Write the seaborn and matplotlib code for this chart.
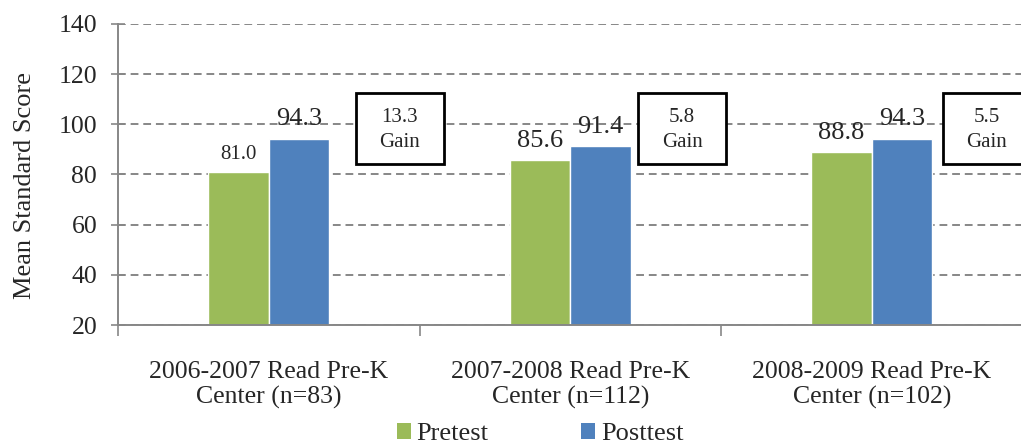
import matplotlib
matplotlib.use("Agg")
import matplotlib.pyplot as plt
import seaborn as sns
import pandas as pd
from matplotlib.patches import Rectangle

categories = ["2006-2007 Read Pre-K\nCenter (n=83)",
              "2007-2008 Read Pre-K\nCenter (n=112)",
              "2008-2009 Read Pre-K\nCenter (n=102)"]
pretest = [81.0, 85.6, 88.8]
posttest = [94.3, 91.4, 94.3]
gains = ["13.3", "5.8", "5.5"]
series = ["Pretest", "Posttest"]
colors = ["#9BBB59", "#4F81BD"]

df = pd.DataFrame({
    "cat": categories * 2,
    "test": [series[0]] * 3 + [series[1]] * 3,
    "score": pretest + posttest,
})

sns.set_theme(style="white")
plt.rcParams["font.family"] = ["Liberation Serif", "DejaVu Serif"]

fig = plt.figure(figsize=(10.21, 4.46), dpi=100)
ax = fig.add_axes([118 / 1021, (446 - 325) / 446, (1022.5 - 118) / 1021, (325 - 24) / 446])

sns.barplot(data=df, x="cat", y="score", hue="test", palette=colors,
            width=0.4, ax=ax, saturation=1, legend=False, errorbar=None)

ax.set_xlim(-0.5, 2.5)
ax.set_ylim(20, 140)
ax.set_yticks(range(20, 141, 20))
ax.set_ylabel("Mean Standard Score", fontsize=19)
ax.yaxis.set_label_coords(-0.091, 0.462)
ax.set_xlabel("")

gray = "#878787"
ax.yaxis.grid(True, color=gray, linestyle=(0, (4, 2.5)), linewidth=1.4)
ax.set_axisbelow(True)
for s in ["top", "right"]:
    ax.spines[s].set_visible(False)
for s in ["left", "bottom"]:
    ax.spines[s].set_color(gray)
    ax.spines[s].set_linewidth(1.4)

ax.tick_params(axis="y", which="major", direction="inout", length=10, width=1.2,
               color=gray, labelsize=18.5, pad=10, left=True)
ax.tick_params(axis="x", which="major", length=0, labelsize=18.5, pad=26)
ax.set_xticks([-0.5, 0.5, 1.5, 2.5], minor=True)
ax.tick_params(axis="x", which="minor", direction="out", length=8, width=1.2,
               color=gray, bottom=True)
for lbl in ax.get_xticklabels():
    lbl.set_linespacing(1.15)

# value labels
sizes = [[15, 19, 19], [19, 19, 19]]
for ci, cont in enumerate(ax.containers):
    vals = pretest if ci == 0 else posttest
    texts = ax.bar_label(cont, labels=[f"{v:.1f}" for v in vals], padding=6)
    for t, fs in zip(texts, sizes[ci]):
        t.set_fontsize(fs)

# gain boxes
box_offsets = [0.289, 0.225, 0.236]
box_w = 0.292
box_lo, box_hi = 84.3, 112.5
for i, (g, off) in enumerate(zip(gains, box_offsets)):
    x0 = i + off
    ax.add_patch(Rectangle((x0, box_lo), box_w, box_hi - box_lo, fill=True,
                           facecolor="white", edgecolor="black", linewidth=2,
                           zorder=5, clip_on=False))
    ax.text(x0 + box_w / 2, (box_lo + box_hi) / 2 - 0.6, f"{g}\nGain", ha="center",
            va="center", fontsize=15, zorder=6, linespacing=1.4)

handles = [Rectangle((0, 0), 1, 1, facecolor=c, edgecolor="none") for c in colors]
fig.legend(handles, series, loc="center", bbox_to_anchor=(540 / 1021, 12 / 446),
           ncol=2, frameon=False, fontsize=19, handlelength=0.55, handleheight=0.55,
           handletextpad=0.2, columnspacing=3.5, borderpad=0.1)

fig.savefig("out.png", dpi=100)
